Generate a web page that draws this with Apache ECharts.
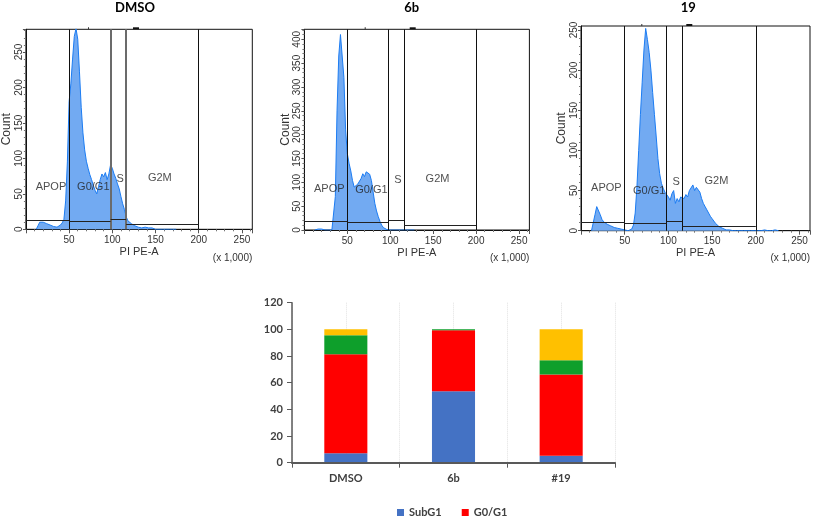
<!DOCTYPE html>
<html><head><meta charset="utf-8">
<script src="https://cdn.jsdelivr.net/npm/echarts@6/dist/echarts.min.js"></script>
<style>html,body{margin:0;padding:0;background:#fff}#c{width:813px;height:519px}</style>
</head><body><div id="c"></div>
<script>
// ---------- histogram data (PI PE-A x1000 bins, counts) ----------
const bins = [12,14,16,18,20,22,24,26,28,30,32,34,36,38,40,42,44,46,48,50,52,54,56,58,60,62,64,66,68,70,72,74,76,78,80,82,84,86,88,90,92,94,96,98,100,102,104,106,108,110,112,114,116,118,120,122,124,126,128,130,132,134,136,138,140,142,144,146,148,150,152,154,156,158,160,162,164,166,168,170,172,174,176,178,180,182,184,186,188,190,192,194,196,198,200,202,204,206,208,210,212,214,216,218,220,222,224,226];
const dmsoCounts = [0,5,10,11,10,9,8,7,6,5,4,4,3,4,6,9,14,40,95,180,205,240,272,283,268,222,172,136,112,96,86,77,70,62,55,50,60,70,78,74,80,70,78,91,86,78,72,64,57,46,36,28,18,12,10,8,6,5,4,3,3,2,2,3,1,2,1,2,1,0,1,0,1,0,1,0,1,0,1,0,1,0];
const b6Counts = [0,0,2,0,2,0,0,0,0,0,0,3,70,250,365,410,414,320,210,160,140,124,104,90,92,96,100,108,118,112,122,120,117,104,80,56,40,28,18,10,5,2,1,0,0,1,0,2,0,0,0,0,0,0,0,0,0,1,0];
const c19Counts = [0,0,20,30,28,20,14,11,9,8,7,6,5,4,3,3,2,2,1,1,0,0,0,2,7,22,55,100,145,185,225,252,238,222,200,172,145,118,90,71,59,53,48,47,42,38,46,50,34,40,36,42,44,40,45,42,50,48,57,50,54,52,48,40,34,30,26,22,18,15,12,9,7,5,3,3,2,1,2,1,0,0,0,0,0,0,0,0,0,0,0,0,0,0,0,0,0,0,0,1,0,0,0,0,0,1,0,0];
const panelTitles = ['DMSO', '6b', '19'];
const gateEdges = [0, 50, 98, 116, 200];
const gateNames = ['APOP', 'G0/G1', 'S', 'G2M'];
const dmsoGateLevels = [13, 11, 14, 7];
const b6GateLevels = [19, 17, 21, 9];
const c19GateLevels = [11, 9.6, 12, 5.5];
const xTickLabels = [50, 100, 150, 200, 250];

// ---------- stacked bar data (%) ----------
const barCategories = ['DMSO', '6b', '#19'];
const subG1 = [7.0, 53.6, 5.2];
const g0g1 = [74.3, 45.7, 60.9];
const sPhase = [14.2, 0.7, 10.7];
const g2m = [4.5, 0.0, 23.2];

// ---------- layout (not data) ----------
const panels = [
  {counts: dmsoCounts, levels: dmsoGateLevels, ymax: 282, grid: {left: 25, top: 29.3, width: 227.3, height: 200}, cx: 135, midGateStyle: {color: '#6b6b6b', width: 2}, labelY: [60, 60, 71, 73]},
  {counts: b6Counts, levels: b6GateLevels, ymax: 421, grid: {left: 304.4, top: 29.3, width: 225, height: 200.7}, cx: 411.7, midGateStyle: {color: '#111', width: 1}, labelY: [87, 85, 105, 107]},
  {counts: c19Counts, levels: c19GateLevels, ymax: 255, grid: {left: 581, top: 26, width: 229, height: 204.7}, cx: 688.3, midGateStyle: {color: '#111', width: 1}, labelY: [53, 50, 61, 62]}
];
const labelX = [29, 78, 109, 155];
const FONT = 'Liberation Sans, Arial, sans-serif';

const grids = [], xAxes = [], yAxes = [], series = [], graphics = [];
panels.forEach((p, i) => {
  grids.push(Object.assign({show: true, borderColor: '#111', borderWidth: 1, backgroundColor: '#fff'}, p.grid));
  xAxes.push({
    type: 'value', gridIndex: i, min: 0, max: 262, interval: 50,
    axisLine: {show: true, onZero: false, lineStyle: {color: '#111'}},
    axisTick: {show: true, length: 4, lineStyle: {color: '#555'}},
    minorTick: {show: true, splitNumber: 5, length: 2, lineStyle: {color: '#777'}},
    splitLine: {show: false}, minorSplitLine: {show: false},
    axisLabel: {fontSize: 10, fontFamily: FONT, color: '#333', margin: 6,
      formatter: v => xTickLabels.includes(v) ? String(v) : ''},
    name: 'PI PE-A', nameLocation: 'middle', nameGap: 17,
    nameTextStyle: {fontSize: 11, fontFamily: FONT, color: '#333'}
  });
  yAxes.push({
    type: 'value', gridIndex: i, min: 0, max: p.ymax, interval: 50,
    axisLine: {show: true, onZero: false, lineStyle: {color: '#111'}},
    axisTick: {show: true, length: 3, lineStyle: {color: '#555'}},
    minorTick: {show: true, splitNumber: 5, length: 2, lineStyle: {color: '#777'}},
    splitLine: {show: false},
    axisLabel: {rotate: 90, fontSize: 10, fontFamily: FONT, color: '#333', margin: 2,
      formatter: v => (v % 50 === 0) ? String(v) : ''},
    name: 'Count', nameLocation: 'middle', nameRotate: 90, nameGap: 12,
    nameTextStyle: {fontSize: 12, fontFamily: FONT, color: '#333'}
  });
  const pts = [];
  for (let k = 0; k < p.counts.length; k++) pts.push([bins[k], p.counts[k]]);
  const ml = [];
  [gateEdges[1], gateEdges[4]].forEach(x => ml.push({xAxis: x, lineStyle: {color: '#111', width: 1, type: 'solid'}}));
  [gateEdges[2], gateEdges[3]].forEach(x => ml.push({xAxis: x, lineStyle: Object.assign({type: 'solid'}, p.midGateStyle)}));
  for (let g = 0; g < 4; g++) {
    ml.push([{coord: [gateEdges[g], p.levels[g]], lineStyle: {color: '#222', width: 1, type: 'solid'}}, {coord: [gateEdges[g + 1], p.levels[g]]}]);
  }
  series.push({
    type: 'line', name: panelTitles[i], xAxisIndex: i, yAxisIndex: i, data: pts, z: 2,
    showSymbol: false, symbol: 'none', clip: true, silent: true,
    lineStyle: {color: '#1c7cf2', width: 1}, areaStyle: {color: '#72aaf2', opacity: 1},
    markLine: {symbol: 'none', silent: true, animation: false, label: {show: false}, data: ml}
  });
  series.push({
    type: 'scatter', xAxisIndex: i, yAxisIndex: i, symbolSize: 0, silent: true, z: 10, zlevel: 1,
    data: gateNames.map((n, g) => ({name: n, value: [labelX[g], p.labelY[g]]})),
    label: {show: true, position: 'inside', formatter: '{b}', fontSize: 11, fontFamily: FONT, color: '#222'}
  });
  graphics.push({type: 'text', x: p.cx, y: 8, style: {text: panelTitles[i], font: 'bold 13px Lato, sans-serif', fill: '#000', align: 'center', verticalAlign: 'middle', textAlign: 'center', textVerticalAlign: 'middle'}});
  const right = p.grid.left + p.grid.width;
  graphics.push({type: 'text', x: right, y: 258, style: {text: '(x 1,000)', font: '10px ' + FONT, fill: '#333', align: 'right', verticalAlign: 'middle', textAlign: 'right', textVerticalAlign: 'middle'}});
  graphics.push({type: 'rect', shape: {x: p.cx - 2, y: p.grid.top - 2, width: 6, height: 2}, style: {fill: '#111'}});
  graphics.push({type: 'rect', shape: {x: p.cx - 47, y: p.grid.top - 2, width: 1, height: 2}, style: {fill: '#333'}});
});

// ---------- stacked bar chart ----------
grids.push({left: 292, top: 302.7, width: 323, height: 160, show: false});
const BF = 'Lato, sans-serif';
xAxes.push({
  type: 'category', gridIndex: 3, data: barCategories,
  axisLine: {show: true, lineStyle: {color: '#595959', width: 2}},
  axisTick: {show: true, length: 5, alignWithLabel: false, lineStyle: {color: '#595959'}},
  axisLabel: {fontSize: 11, fontWeight: 'bold', fontFamily: BF, color: '#404040', margin: 10},
  splitLine: {show: false}, z: 5
});
xAxes.push({
  type: 'value', gridIndex: 3, min: 0, max: 3, interval: 0.5,
  axisLine: {show: false}, axisTick: {show: false}, axisLabel: {show: false},
  splitLine: {show: true, lineStyle: {color: '#e2e2e2', type: 'dotted', width: 1}}
});
yAxes.push({
  type: 'value', gridIndex: 3, min: 0, max: 120, interval: 20,
  axisLine: {show: true, lineStyle: {color: '#595959', width: 1.5}},
  axisTick: {show: true, length: 5, lineStyle: {color: '#595959'}},
  axisLabel: {fontSize: 11, fontWeight: 'bold', fontFamily: BF, color: '#404040', margin: 9},
  splitLine: {show: false}
});
const barDefs = [['SubG1', subG1, '#4472C4'], ['G0/G1', g0g1, '#FF0000'], ['S', sPhase, '#0E9F2B'], ['G2M', g2m, '#FFC000']];
barDefs.forEach(([n, d, c]) => series.push({
  type: 'bar', name: n, stack: 'pct', xAxisIndex: 3, yAxisIndex: 3, data: d,
  barWidth: '40%', itemStyle: {color: c}, silent: true
}));

const chart = echarts.init(document.getElementById('c'), null, {renderer: 'canvas'});
chart.setOption({
  animation: false,
  backgroundColor: '#fff',
  grid: grids, xAxis: xAxes, yAxis: yAxes, series: series,
  legend: {data: ['SubG1', 'G0/G1'], left: 392, top: 502, itemWidth: 7, itemHeight: 7, itemGap: 20, icon: 'rect',
    textStyle: {fontSize: 11, fontWeight: 'bold', fontFamily: BF, color: '#404040'}},
  graphic: graphics
});
</script></body></html>
